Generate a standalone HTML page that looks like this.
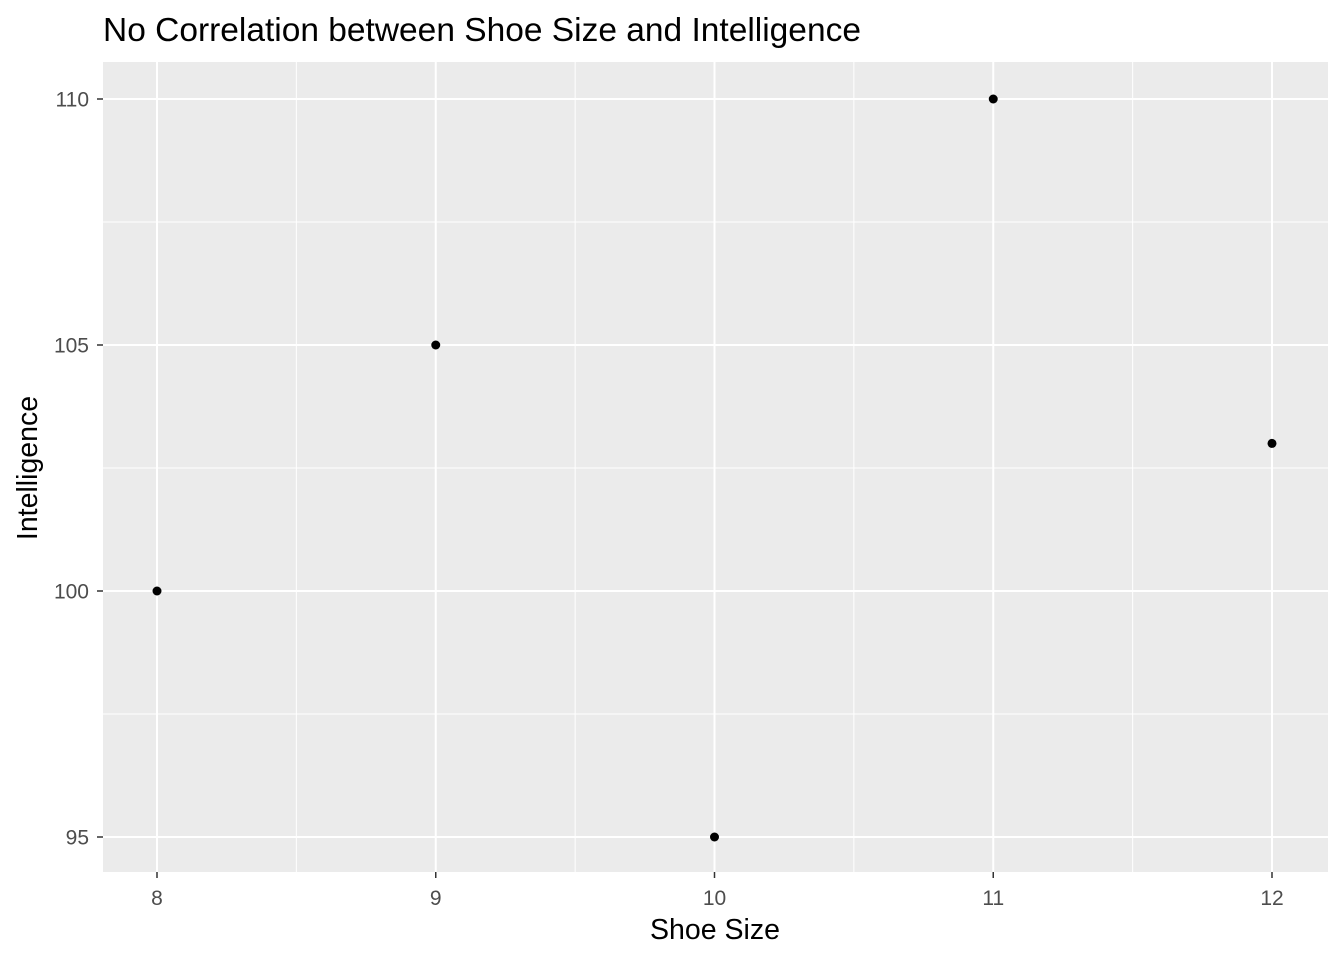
<!DOCTYPE html>
<html><head><meta charset="utf-8"><style>
body{margin:0;background:#fff;}
svg{display:block;font-family:"Liberation Sans",Arial,sans-serif;}
</style></head><body>
<svg id="chart" width="1344" height="960">
<text x="103" y="41" font-size="33.5" fill="#000">No Correlation between Shoe Size and Intelligence</text>
<rect x="103" y="62" width="1225" height="810" fill="#ebebeb"/>
<g id="grid"></g>
<g id="axes"></g>
<g id="points"></g>
<text x="715" y="939" font-size="28.5" text-anchor="middle" fill="#000">Shoe Size</text>
<text transform="translate(37,468) rotate(-90)" font-size="28.5" text-anchor="middle" fill="#000">Intelligence</text>
</svg>
<script>
const shoeSizes=[8,9,10,11,12];
const intelligence=[100,105,95,110,103];
const xTicks=[8,9,10,11,12];
const yTicks=[95,100,105,110];
const NS="http://www.w3.org/2000/svg";
function xs(v){return 157+(v-8)*278.75;}
function ys(v){return 837-(v-95)*49.2;}
function mk(tag,attrs,parent){const e=document.createElementNS(NS,tag);for(const k in attrs)e.setAttribute(k,attrs[k]);parent.appendChild(e);return e;}
const grid=document.getElementById('grid'),axes=document.getElementById('axes'),pts=document.getElementById('points');
for(let i=0;i<xTicks.length-1;i++){const v=(xTicks[i]+xTicks[i+1])/2;
 const l=mk('line',{x1:xs(v),x2:xs(v),y1:62,y2:872,stroke:'#fff','stroke-width':1},grid);
 
 }
for(let i=0;i<yTicks.length-1;i++){const v=(yTicks[i]+yTicks[i+1])/2;
 const l=mk('line',{x1:103,x2:1328,y1:ys(v),y2:ys(v),stroke:'#fff','stroke-width':1},grid);
 
 }
xTicks.forEach(v=>{
 const l=mk('line',{x1:xs(v),x2:xs(v),y1:62,y2:872,stroke:'#fff','stroke-width':2},grid);
 
 
 const t=mk('line',{x1:xs(v),x2:xs(v),y1:872,y2:878,stroke:'#333','stroke-width':1.5},axes);
 
 
 const tx=mk('text',{x:xs(v),y:905,'font-size':21,'text-anchor':'middle',fill:'#4d4d4d'},axes);
 tx.textContent=v;
 
 });
yTicks.forEach(v=>{
 const l=mk('line',{x1:103,x2:1328,y1:ys(v),y2:ys(v),stroke:'#fff','stroke-width':2},grid);
 
 
 const t=mk('line',{x1:97,x2:103,y1:ys(v),y2:ys(v),stroke:'#333','stroke-width':1.5},axes);
 
 
 const tx=mk('text',{x:89,y:ys(v)+7.5,'font-size':21,'text-anchor':'end',fill:'#4d4d4d'},axes);
 tx.textContent=v;
 
 });
shoeSizes.forEach((s,i)=>{
 const c=mk('circle',{cx:xs(s),cy:ys(intelligence[i]),r:4.5,fill:'#000'},pts);
 
 });
</script>
</body></html>
